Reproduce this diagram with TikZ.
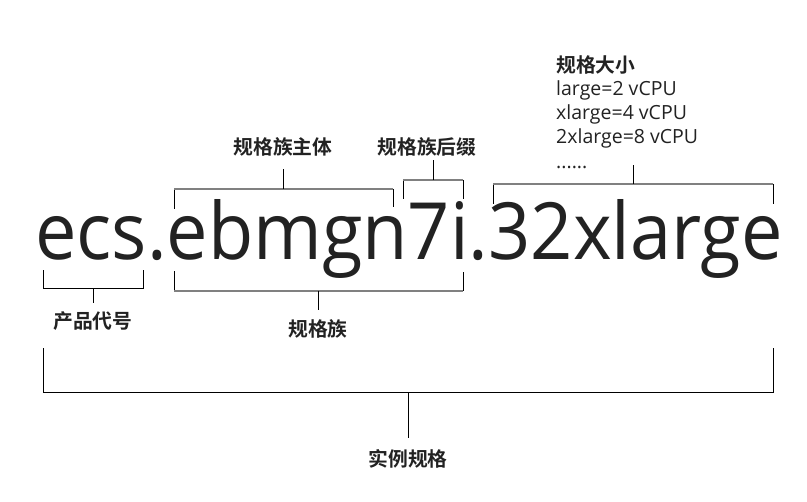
\documentclass[tikz,border=0pt]{standalone}
\usepackage{fontspec}
\usepackage{graphicx}
\setmainfont{Open Sans}
\newfontfamily\cjk{Noto Sans CJK SC}[BoldFont={Noto Sans CJK SC Bold}]
\definecolor{ink}{HTML}{222222}
\definecolor{rulegray}{HTML}{808080}

\begin{document}
\begin{tikzpicture}[
    x=1pt, y=-1pt,
    font=\fontsize{19.5}{24}\selectfont,
    tick/.style={line width=1pt, black},
    bar/.style={line width=1.7pt, rulegray},
    lbl/.style={font=\cjk\bfseries\fontsize{19.8}{22}\selectfont, text=ink, inner sep=0pt},
    sizeline/.style={anchor=base west, inner sep=0pt, text=ink}
]
\useasboundingbox (0,0) rectangle (807,502);

% =========================================================
% 1) SPEC STRING
% =========================================================
\node[anchor=base west, inner sep=0pt, text=ink, font=\fontsize{79}{90}\selectfont] (spec) at (35,260)
{\scalebox{0.935}[1]{ecs.ebmgn7i.32xlarge}};

% =========================================================
% 2) UPPER BRACKETS
% =========================================================
\node[lbl] (mainLbl) at (283,147) {规格族主体};
\node[lbl] (suffixLbl) at (427,147) {规格族后缀};

\node[lbl, anchor=base west] (sizeHead) at (556,73) {规格大小};
\node[sizeline] (sizeA) at (556,96) {large=2 vCPU};
\node[sizeline] (sizeB) at (556,120) {xlarge=4 vCPU};
\node[sizeline] (sizeC) at (556,144) {2xlarge=8 vCPU};
\node[sizeline] (sizeD) at (556,169) {......};

% family body
\coordinate (mainL) at (174,189);
\coordinate (mainR) at (393,189);
\coordinate (mainMid) at (283,189);
\coordinate (mainTop) at (283,169);
\draw[tick] (mainL) -- ++(0,20);
\draw[tick] (mainR) -- ++(0,18);
\draw[bar] (mainL) -- (mainR);
\draw[tick] (mainMid) -- (mainTop);

% family suffix
\coordinate (sufL) at (403,180);
\coordinate (sufR) at (463,180);
\coordinate (sufMid) at (433,180);
\coordinate (sufTop) at (433,160);
\draw[tick] (sufL) -- ++(0,19);
\draw[tick] (sufR) -- ++(0,19);
\draw[bar] (sufL) -- (sufR);
\draw[tick] (sufMid) -- (sufTop);

% size
\coordinate (sizeL) at (493,184);
\coordinate (sizeR) at (773,184);
\coordinate (sizeMid) at (633,184);
\coordinate (sizeTop) at (633,165);
\draw[tick] (sizeL) -- ++(0,20);
\draw[tick] (sizeR) -- ++(0,20);
\draw[bar] (sizeL) -- (sizeR);
\draw[tick] (sizeMid) -- (sizeTop);

% =========================================================
% 3) LOWER BRACKETS
% =========================================================
\node[lbl] (prodLbl) at (93,321) {产品代号};
\node[lbl] (famLbl) at (318,329) {规格族};
\node[lbl] (instLbl) at (408,459) {实例规格};

% product code
\coordinate (prodL) at (43,289);
\coordinate (prodR) at (143,289);
\coordinate (prodMid) at (93,289);
\coordinate (prodBot) at (93,303);
\draw[tick] (prodL) -- ++(0,-19) (prodR) -- ++(0,-19);
\draw[tick] (prodL) -- (prodR);
\draw[tick] (prodMid) -- (prodBot);

% family
\coordinate (famL) at (174,291);
\coordinate (famR) at (463,291);
\coordinate (famMid) at (318,291);
\coordinate (famBot) at (318,310);
\draw[tick] (famL) -- ++(0,-20) (famR) -- ++(0,-19);
\draw[bar] (famL) -- (famR);
\draw[tick] (famMid) -- (famBot);

% instance spec
\coordinate (instL) at (43,393);
\coordinate (instR) at (773,393);
\coordinate (instMid) at (408,393);
\coordinate (instBot) at (408,438);
\draw[tick] (instL) -- ++(0,-45) (instR) -- ++(0,-45);
\draw[tick] (instL) -- (instR);
\draw[tick] (instMid) -- (instBot);

\end{tikzpicture}
\end{document}
